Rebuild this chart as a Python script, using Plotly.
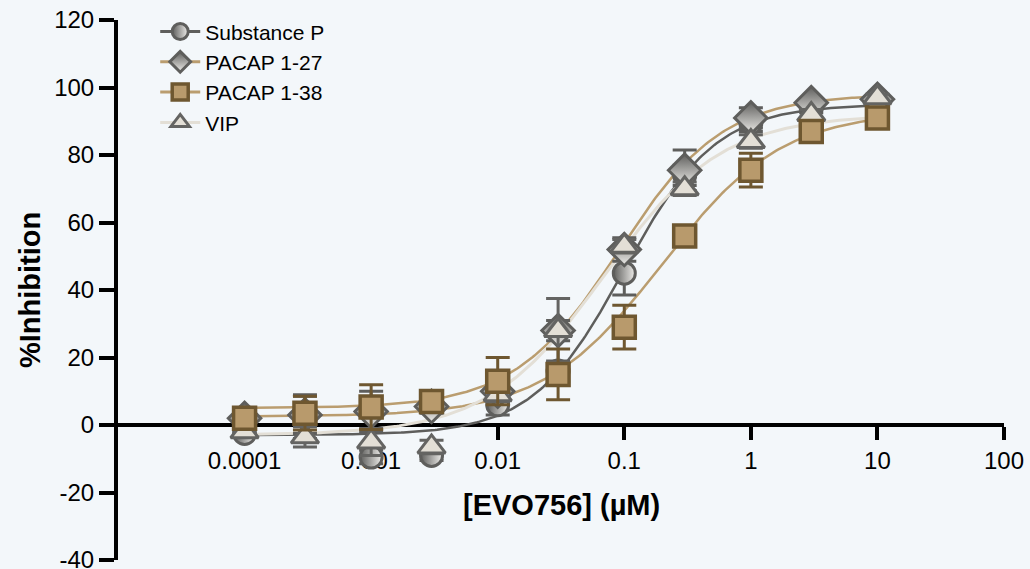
import numpy as np
import plotly.graph_objects as go

# ---- data ----
conc = [0.0001, 0.0003, 0.001, 0.003, 0.01, 0.03, 0.1, 0.3, 1, 3, 10]

sp_mean = [-2.5, 2.5, -9.5, -9.0, 6.0, 16.0, 45.0, 74.0, 89.5, 94.0, 94.5]
sp_err = [1.0, 6.5, 2.0, 1.5, 3.0, 3.0, 6.5, 3.0, 2.5, 1.5, 1.0]

p27_mean = [2.0, 3.0, 4.0, 5.5, 10.0, 28.0, 52.0, 75.5, 91.0, 95.5, 96.5]
p27_err = [1.0, 5.5, 6.0, 2.0, 3.0, 3.0, 3.5, 6.0, 3.0, 1.0, 1.0]

p38_mean = [2.0, 3.5, 5.3, 7.0, 13.0, 15.0, 29.0, 56.0, 75.5, 87.0, 91.0]
p38_err = [1.5, 5.0, 6.6, 1.5, 7.0, 7.5, 6.5, 2.0, 5.0, 1.5, 1.5]

vip_mean = [-2.0, -3.5, -5.0, -6.5, 9.0, 28.0, 53.0, 70.0, 84.0, 92.0, 97.0]
vip_err = [1.0, 3.0, 4.0, 2.0, 2.0, 9.5, 2.0, 2.0, 2.0, 1.5, 1.0]

# fitted 4-parameter logistic curves: bottom, top, EC50 (uM), Hill slope
sp_fit = [-3.0, 95.0, 0.10, 1.2]
p27_fit = [5.0, 98.0, 0.09, 1.05]
p38_fit = [2.5, 93.0, 0.20, 0.92]
vip_fit = [-3.0, 92.0, 0.07, 0.94]

names = ["Substance P", "PACAP 1-27", "PACAP 1-38", "VIP"]
x_tickvals = [0.0001, 0.001, 0.01, 0.1, 1, 10, 100]
x_ticktext = ["0.0001", "0.001", "0.01", "0.1", "1", "10", "100"]
y_tickvals = [-40, -20, 0, 20, 40, 60, 80, 100, 120]
y_ticktext = ["-40", "-20", "0", "20", "40", "60", "80", "100", "120"]

# ---- styles ----
DARK = "#5E5E5C"
TAN = "#BA9D6F"
BROWN = "#6E5730"
LIGHT = "#E3DFD6"
BG = "#F3F7FA"
FONT = "Liberation Sans, Arial, sans-serif"

series = [
    dict(name=names[0], mean=sp_mean, err=sp_err, fit=sp_fit, line=DARK, lw=2.5,
         marker=dict(symbol="circle", size=22, color=DARK,
                     gradient=dict(type="horizontal", color="#EEEDEA"),
                     line=dict(color=DARK, width=3)), ecol=DARK),
    dict(name=names[1], mean=p27_mean, err=p27_err, fit=p27_fit, line=TAN, lw=2.5,
         marker=dict(symbol="diamond", size=25, color=DARK,
                     gradient=dict(type="vertical", color="#EEEDEA"),
                     line=dict(color=DARK, width=3)), ecol=DARK),
    dict(name=names[2], mean=p38_mean, err=p38_err, fit=p38_fit, line=TAN, lw=2.5,
         marker=dict(symbol="square", size=22, color="#B89A6C",
                     line=dict(color=BROWN, width=3.5)), ecol=BROWN),
    dict(name=names[3], mean=vip_mean, err=vip_err, fit=vip_fit, line=LIGHT, lw=3,
         marker=dict(symbol="triangle-up", size=24, color=LIGHT,
                     line=dict(color="#646462", width=3)), ecol="#646462"),
]


def logistic(x, p):
    bottom, top, ec50, hill = p
    x = np.asarray(x, dtype=float)
    return bottom + (top - bottom) / (1.0 + (ec50 / x) ** hill)


xc = np.logspace(np.log10(conc[0]), np.log10(conc[-1]), 300)

fig = go.Figure()

# fitted curves (below the points)
for s in series:
    fig.add_trace(go.Scatter(x=xc, y=logistic(xc, s["fit"]), mode="lines",
                             line=dict(color=s["line"], width=s["lw"]),
                             showlegend=False, hoverinfo="skip"))

# points with error bars; drawing order: SP, 1-27, VIP, 1-38
for idx in [0, 1, 3, 2]:
    s = series[idx]
    fig.add_trace(go.Scatter(x=conc, y=s["mean"], mode="markers",
                             marker=s["marker"],
                             error_y=dict(type="data", array=s["err"], visible=True,
                                          color=s["ecol"], thickness=3, width=12),
                             showlegend=False, name=s["name"]))

# legend entries
for s in series:
    fig.add_trace(go.Scatter(x=[None], y=[None], mode="lines+markers",
                             name=s["name"], marker=s["marker"],
                             line=dict(color=s["line"], width=3)))

W, H = 1030, 569
ml, mr, mt, mb = 118, 26, 20, 9
PW, PH = W - ml - mr, H - mt - mb

fig.update_layout(
    width=W, height=H,
    margin=dict(l=ml, r=mr, t=mt, b=mb, pad=0, autoexpand=False),
    paper_bgcolor=BG, plot_bgcolor=BG,
    font=dict(family=FONT, color="#000000"),
    showlegend=True,
    legend=dict(x=0.042, y=1.016, xanchor="left", yanchor="top",
                bgcolor="rgba(0,0,0,0)", font=dict(size=21, family=FONT),
                tracegroupgap=0, itemwidth=40),
    xaxis=dict(type="log", range=[-5, 2], anchor="free", position=0.25,
               automargin=False, ticklabeloverflow="allow",
               showgrid=False, zeroline=False, showline=True, linecolor="#000000",
               linewidth=4, ticks="outside", ticklen=13, tickwidth=3.5,
               tickcolor="#000000", tickvals=x_tickvals, ticktext=x_ticktext,
               tickfont=dict(size=24, family=FONT), layer="below traces"),
    yaxis=dict(range=[-40, 120], domain=[0, 1], showgrid=False, zeroline=False,
               automargin=False, ticklabeloverflow="allow",
               showline=True, linecolor="#000000", linewidth=4, ticks="outside",
               ticklen=15, tickwidth=3.5, tickcolor="#000000", tickvals=y_tickvals,
               ticktext=y_ticktext,
               tickfont=dict(size=24, family=FONT), layer="below traces"),
    annotations=[
        dict(text="<b>[EVO756] (µM)</b>", xref="paper", yref="paper",
             x=0.5, y=(H - mb - 505) / PH, xanchor="center", yanchor="middle",
             showarrow=False, font=dict(size=29, family=FONT)),
        dict(text="<b>%Inhibition</b>", xref="paper", yref="paper",
             x=(30 - ml) / PW, y=0.5, xanchor="center", yanchor="middle",
             textangle=-90, showarrow=False, font=dict(size=29, family=FONT)),
    ],
)

# remove the browser's default body margin so the figure fills the window
page_js = ("document.body.style.margin='0';"
           "document.body.style.background='" + BG + "';"
           "document.body.style.overflow='hidden';")

fig.write_html("out.html", post_script=page_js,
               config={"displayModeBar": False})
